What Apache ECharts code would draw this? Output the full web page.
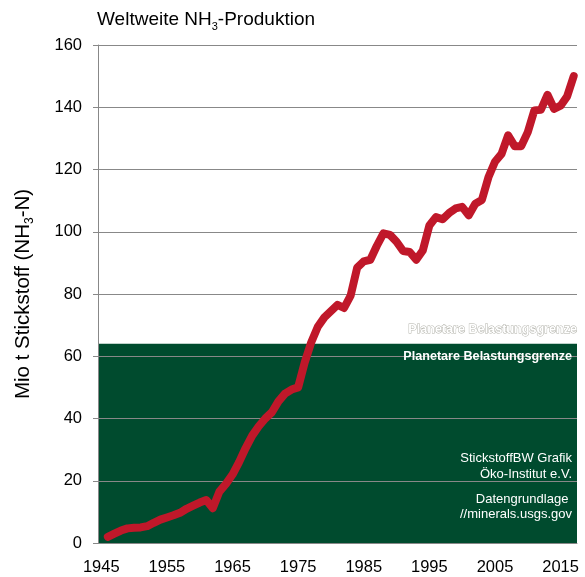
<!DOCTYPE html>
<html>
<head>
<meta charset="utf-8">
<script src="https://cdn.jsdelivr.net/npm/echarts@6/dist/echarts.min.js"></script>
<style>
html,body{margin:0;padding:0;background:#fff;}
#chart{width:585px;height:577px;}
</style>
</head>
<body>
<div id="chart"></div>
<script>
var years = ['1945','1946','1947','1948','1949','1950','1951','1952','1953','1954',
  '1955','1956','1957','1958','1959','1960','1961','1962','1963','1964',
  '1965','1966','1967','1968','1969','1970','1971','1972','1973','1974',
  '1975','1976','1977','1978','1979','1980','1981','1982','1983','1984',
  '1985','1986','1987','1988','1989','1990','1991','1992','1993','1994',
  '1995','1996','1997','1998','1999','2000','2001','2002','2003','2004',
  '2005','2006','2007','2008','2009','2010','2011','2012','2013','2014',
  '2015','2016','2017'];
var production = [null, 2.0, 3.0, 4.0, 4.7, 4.9, 5.0, 5.4, 6.5, 7.5,
  8.2, 8.9, 9.7, 11.0, 12.0, 13.0, 13.8, 11.2, 16.5, 19.0,
  22.0, 26.0, 30.5, 34.5, 37.5, 40.0, 42.0, 45.5, 48.0, 49.3,
  50.0, 58.0, 64.5, 69.5, 72.5, 74.5, 76.5, 75.5, 79.5, 88.5,
  90.5, 91.0, 95.5, 99.5, 99.0, 96.8, 93.8, 93.5, 91.0, 94.0,
  102.0, 104.7, 104.0, 106.0, 107.5, 108.0, 105.3, 109.0, 110.2, 117.5,
  122.5, 125.0, 131.0, 127.5, 127.5, 132.0, 139.0, 139.2, 144.0, 139.5,
  140.5, 143.5, 150.0];
var yTicks = [0, 20, 40, 60, 80, 100, 120, 140, 160];
var boundary = 64;
var boundaryLabel = 'Planetare Belastungsgrenze';
var creditLines = ['StickstoffBW Grafik', 'Öko-Institut e.V.'];
var sourceLines = ['Datengrundlage ', '//minerals.usgs.gov'];

var FONT = '"Liberation Sans", Arial, sans-serif';
var chart = echarts.init(document.getElementById('chart'), null, {renderer: 'canvas'});

var option = {
  backgroundColor: '#ffffff',
  animation: false,
  textStyle: {fontFamily: FONT},
  title: {
    left: 97, top: 8, padding: 0,
    text: '{a|Weltweite NH}{s|3}{a|-Produktion}',
    textStyle: {
      fontWeight: 'normal',
      rich: {
        a: {fontSize: 19, fontWeight: 'normal', color: '#000', fontFamily: FONT, lineHeight: 24, verticalAlign: 'middle'},
        s: {fontSize: 11, fontWeight: 'normal', color: '#000', fontFamily: FONT, lineHeight: 24, verticalAlign: 'bottom'}
      }
    }
  },
  grid: {left: 98, right: 8, top: 45, bottom: 34, containLabel: false},
  xAxis: {
    type: 'category',
    data: years,
    boundaryGap: true,
    z: 2,
    axisLine: {show: true, lineStyle: {color: '#888', width: 1}},
    axisTick: {show: false},
    splitLine: {show: false},
    axisLabel: {interval: 9, fontSize: 16.5, color: '#000', fontFamily: FONT, margin: 16}
  },
  yAxis: {
    type: 'value',
    min: yTicks[0], max: yTicks[yTicks.length - 1], interval: 20,
    z: 2,
    name: '{a|Mio t Stickstoff (NH}{s|3}{a|-N)}',
    nameLocation: 'middle',
    nameGap: 62,
    nameRotate: 90,
    nameTextStyle: {
      rich: {
        a: {fontSize: 20.5, color: '#000', fontFamily: FONT, lineHeight: 26, verticalAlign: 'middle'},
        s: {fontSize: 12, color: '#000', fontFamily: FONT, lineHeight: 26, verticalAlign: 'bottom'}
      }
    },
    axisLine: {show: true, lineStyle: {color: '#888', width: 1}},
    axisTick: {show: true, inside: false, length: 5, lineStyle: {color: '#888', width: 1}},
    splitLine: {show: true, lineStyle: {color: '#888', width: 1}},
    axisLabel: {fontSize: 16.5, color: '#000', fontFamily: FONT, margin: 16}
  },
  series: [{
    type: 'line',
    data: production,
    z: 3,
    symbol: 'none',
    smooth: false,
    connectNulls: false,
    lineStyle: {color: '#c0182a', width: 8, cap: 'round', join: 'round'},
    markArea: {
      silent: true,
      z: 1,
      itemStyle: {color: '#004b2e', opacity: 1},
      data: [[{yAxis: 0}, {yAxis: boundary}]]
    }
  }],
  graphic: [
    {type: 'text', z: 10, style: {text: boundaryLabel, x: 577, y: 330, align: 'right', verticalAlign: 'middle',
      fill: '#ffffff', stroke: '#b0b0a8', lineWidth: 0.9, font: 'bold 12.6px ' + FONT}},
    {type: 'text', z: 10, style: {text: boundaryLabel, x: 572, y: 357, align: 'right', verticalAlign: 'middle',
      fill: '#ffffff', font: 'bold 12.6px ' + FONT}},
    {type: 'text', z: 10, style: {text: creditLines[0], x: 572, y: 458, align: 'right', verticalAlign: 'middle',
      fill: '#ffffff', font: '13px ' + FONT}},
    {type: 'text', z: 10, style: {text: creditLines[1], x: 572, y: 474, align: 'right', verticalAlign: 'middle',
      fill: '#ffffff', font: '13px ' + FONT}},
    {type: 'text', z: 10, style: {text: sourceLines[0], x: 572, y: 499, align: 'right', verticalAlign: 'middle',
      fill: '#ffffff', font: '13px ' + FONT}},
    {type: 'text', z: 10, style: {text: sourceLines[1], x: 572, y: 514, align: 'right', verticalAlign: 'middle',
      fill: '#ffffff', font: '13px ' + FONT}}
  ]
};
chart.setOption(option);
</script>
</body>
</html>
